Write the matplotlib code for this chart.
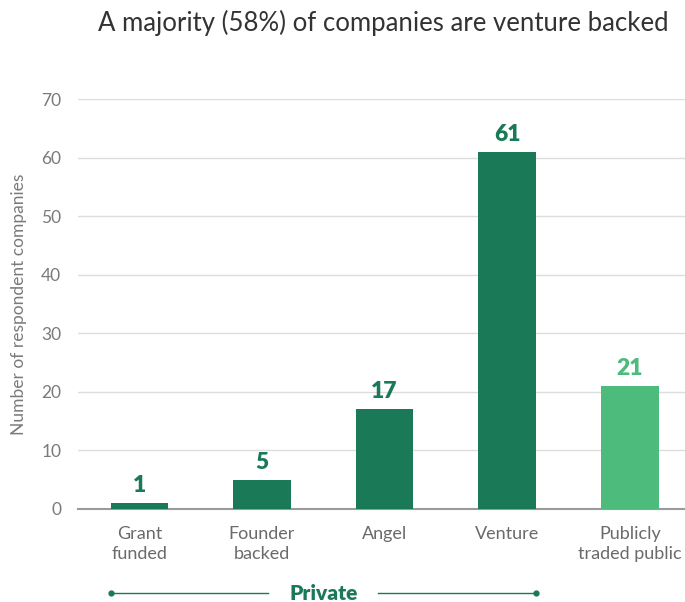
import matplotlib.pyplot as plt

# --- Data ---
categories = ["Grant\nfunded", "Founder\nbacked", "Angel", "Venture", "Publicly\ntraded public"]
counts = [1, 5, 17, 61, 21]
colors = ["#1a7a58", "#1a7a58", "#1a7a58", "#1a7a58", "#4cbb7b"]
yticks = [0, 10, 20, 30, 40, 50, 60, 70]

plt.rcParams['font.family'] = ['Lato', 'DejaVu Sans']

fig = plt.figure(figsize=(6.85, 6.02), dpi=100)
ax = fig.add_axes([0.1139, 0.1545, 0.886, 0.681])

x = range(len(categories))
bars = ax.bar(x, counts, width=0.47, color=colors, zorder=3)

# waardes boven de balken
for xi, val, col in zip(x, counts, colors):
    ax.text(xi, val + 1.2, str(val), ha='center', va='bottom',
            fontsize=16.5, fontweight='heavy', color=col)

ax.set_xlim(-0.5, 4.45)
ax.set_ylim(0, 70)
ax.set_yticks(yticks)
ax.set_xticks(list(x))
ax.set_xticklabels(categories, fontsize=13, color="#6a6a6a", linespacing=1.3)
ax.tick_params(axis='y', length=0, pad=12, labelsize=12.5, labelcolor="#7a7a7a")
ax.tick_params(axis='x', length=0, pad=12)

ax.grid(axis='y', color="#dddddd", linewidth=1, zorder=0)
for side in ['top', 'right', 'left']:
    ax.spines[side].set_visible(False)
ax.spines['bottom'].set_color("#9a9a9a")
ax.spines['bottom'].set_linewidth(1.5)

ax.set_ylabel("Number of respondent companies", fontsize=12.5, color="#7a7a7a", labelpad=10)

# --- "Private" groepering onder de eerste vier categorieen ---
trans = ax.get_xaxis_transform()
y_br = -0.205
left, right = -0.235, 3.235
ax.plot([left, 1.05], [y_br, y_br], color="#1a7a58", lw=1, transform=trans, clip_on=False)
ax.plot([1.95, right], [y_br, y_br], color="#1a7a58", lw=1, transform=trans, clip_on=False)
ax.plot([left, right], [y_br, y_br], 'o', ms=3.5, color="#1a7a58", transform=trans, clip_on=False)
ax.text(1.5, y_br, "Private", ha='center', va='center', fontsize=15, fontweight='heavy',
        color="#1a7a58", transform=trans)

fig.text(0.56, 0.962, "A majority (58%) of companies are venture backed",
         ha='center', va='center', fontsize=18.5, color="#333333")

fig.savefig("out.png", dpi=100)
